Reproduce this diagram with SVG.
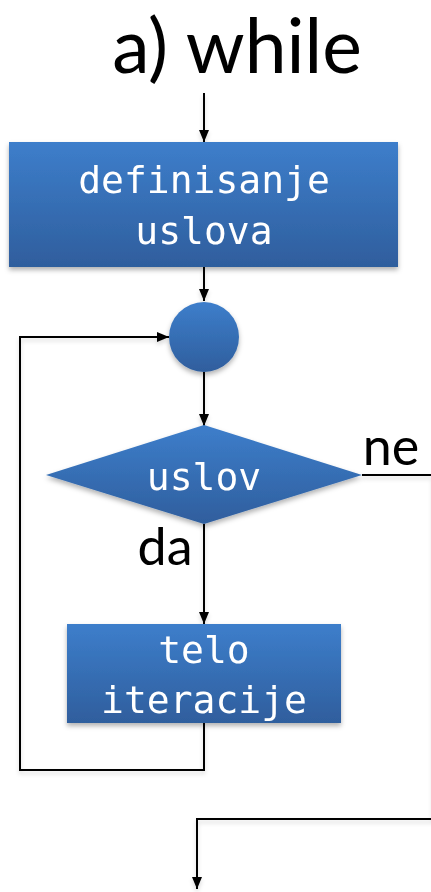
<svg xmlns="http://www.w3.org/2000/svg" width="431" height="892" viewBox="0 0 431 892">
<defs>
<style>
.lbl{font-family:Lato,"Open Sans","Liberation Sans",sans-serif;fill:#000}
.mono{font-family:"DejaVu Sans Mono","Liberation Mono",monospace;font-size:38px;fill:#fff;text-anchor:middle}
.ln{fill:none;stroke:#000;stroke-width:2}
</style>
<linearGradient id="g" x1="0" y1="0" x2="0" y2="1">
<stop offset="0" stop-color="#3d7ecb"/>
<stop offset="1" stop-color="#2f5e9d"/>
</linearGradient>
<filter id="sh" x="-10%" y="-10%" width="120%" height="130%">
<feDropShadow dx="0" dy="3" stdDeviation="2.5" flood-color="#000" flood-opacity="0.3"/>
</filter>
<filter id="lsh" x="0" y="0" width="440" height="892" filterUnits="userSpaceOnUse">
<feDropShadow dx="0" dy="3" stdDeviation="2" flood-color="#000" flood-opacity="0.15"/>
</filter>
<marker id="ah" markerWidth="13" markerHeight="12" refX="12" refY="6" orient="auto" markerUnits="userSpaceOnUse">
<path d="M0,1 L12,6 L0,11 Z" fill="#000"/>
</marker>
</defs>
<rect width="431" height="892" fill="#fff"/>
<text class="lbl" x="237" y="73" font-size="75" text-anchor="middle">a) while</text>
<g id="connectors" filter="url(#lsh)">
<line class="ln" x1="204" y1="93" x2="204" y2="142" marker-end="url(#ah)"/>
<line class="ln" x1="204" y1="267" x2="204" y2="301" marker-end="url(#ah)"/>
<line class="ln" x1="204" y1="372" x2="204" y2="426" marker-end="url(#ah)"/>
<line class="ln" x1="204" y1="524" x2="204" y2="624" marker-end="url(#ah)"/>
<polyline class="ln" points="204,723 204,770 20,770 20,337 169,337" marker-end="url(#ah)"/>
<polyline class="ln" points="362,475 433,475 433,819 197,819 197,889" marker-end="url(#ah)"/>
</g>
<g id="n-def" filter="url(#sh)">
<rect x="9" y="142" width="389" height="125" fill="url(#g)"/>
<text class="mono" x="204" y="193">definisanje</text>
<text class="mono" x="204" y="244">uslova</text>
</g>
<g id="n-join" filter="url(#sh)">
<circle cx="204" cy="337" r="35" fill="url(#g)"/>
</g>
<g id="n-cond" filter="url(#sh)">
<polygon points="204,425 362,475 204,524 46,475" fill="url(#g)"/>
<text class="mono" x="204" y="490">uslov</text>
</g>
<g id="n-body" filter="url(#sh)">
<rect x="67" y="624" width="274" height="99" fill="url(#g)"/>
<text class="mono" x="204" y="663">telo</text>
<text class="mono" x="204" y="713">iteracije</text>
</g>
<text class="lbl" x="391" y="465" font-size="52" text-anchor="middle">ne</text>
<text class="lbl" x="165" y="565" font-size="52" text-anchor="middle">da</text>
</svg>
